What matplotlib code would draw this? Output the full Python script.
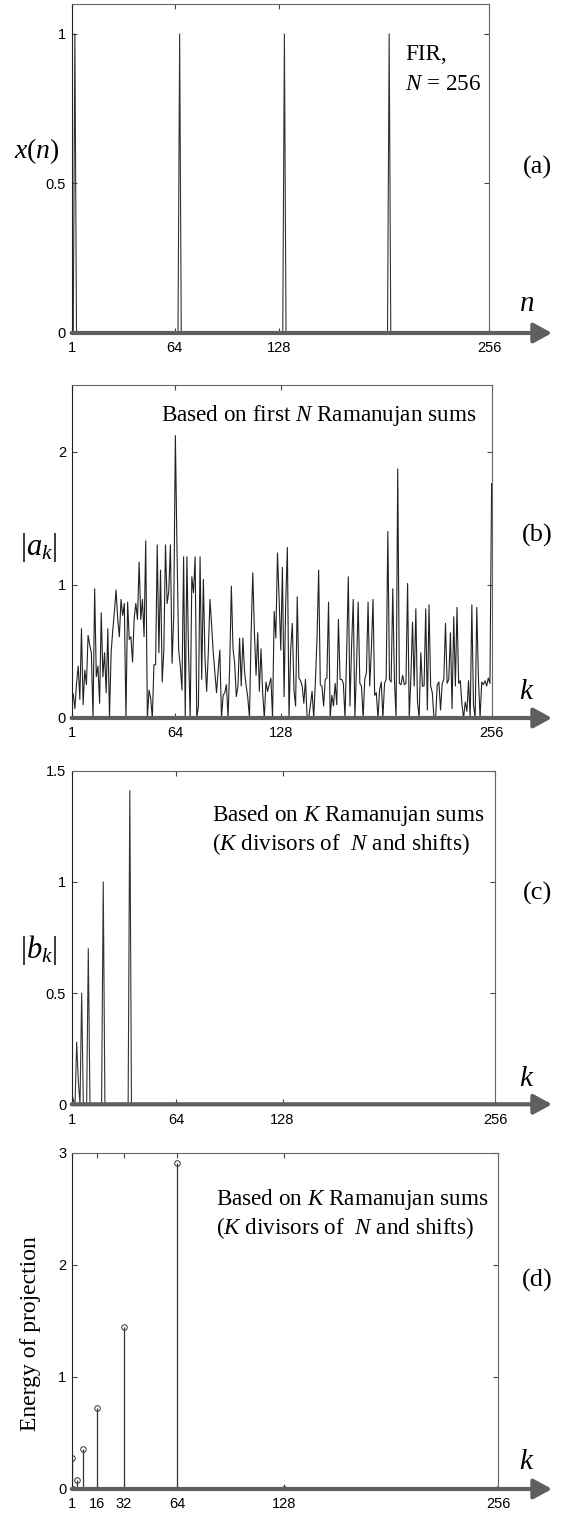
import numpy as np
import matplotlib
matplotlib.use('Agg')
import matplotlib.pyplot as plt

plt.rcParams['font.family'] = ['Liberation Sans', 'DejaVu Sans']
plt.rcParams['mathtext.fontset'] = 'custom'
plt.rcParams['mathtext.rm'] = 'Liberation Serif'
plt.rcParams['mathtext.it'] = 'Liberation Serif:italic'

W, H = 569, 1513

# (a) FIR signal, N = 256
n = np.arange(1, 257)
spike_n = [3, 67, 131, 195]
spike_val = [1.0, 1.0, 1.0, 1.0]

# (b) |a_k|, first N Ramanujan sums
a_k = [
    0.2, 0.18, 0.07, 0.26, 0.39, 0.14, 0.67, 0.1, 0.36, 0.25,
    0.62, 0.55, 0.49, 0.0, 0.97, 0.31, 0.39, 0.11, 0.79, 0.31,
    0.49, 0.19, 0.67, 0.0, 0.49, 0.66, 0.8, 0.96, 0.74, 0.61,
    0.89, 0.77, 0.86, 0.0, 0.87, 0.59, 0.61, 0.42, 0.75, 0.86,
    0.74, 1.17, 0.74, 0.89, 0.61, 1.33, 0.0, 0.21, 0.15, 0.0,
    0.4, 0.4, 1.3, 0.49, 1.11, 0.27, 0.51, 1.3, 0.86, 0.95,
    1.3, 0.41, 0.76, 2.12, 1.26, 0.51, 0.39, 0.21, 1.21, 0.0,
    1.21, 0.49, 0.0, 1.06,
    0.94, 1.21, 0.0, 0.09, 1.21, 0.29, 1.04, 0.44, 0.2, 0.49,
    0.89, 0.7, 0.49, 0.34, 0.19, 0.36, 0.51, 0.0, 0.17, 0.19,
    0.25, 0.0, 0.4, 0.99, 0.52, 0.41, 0.16, 0.24, 0.6, 0.24,
    0.6, 0.35, 0.24, 0.15, 0.0, 0.64, 1.09, 0.64, 0.32, 0.64,
    0.2, 0.52, 0.19, 0.0, 0.27, 0.2, 0.25, 0.3, 0.0, 0.8,
    0.6, 1.24, 0.89, 0.51, 1.13, 0.16, 0.87, 1.28, 0.0, 0.51,
    0.71, 0.21, 0.09, 0.91, 0.3, 0.28, 0.24, 0.11, 0.29, 0.0,
    0.0, 0.1, 0.2, 0.0, 0.27, 0.6, 1.11, 0.25, 0.24, 0.09,
    0.29, 0.3, 0.87, 0.0, 0.17, 0.09, 0.26, 0.1, 0.74, 0.29,
    0.29, 0.26, 0.0, 0.49, 1.06, 0.09, 0.54, 0.89, 0.0, 0.39,
    0.87, 0.26, 0.24, 0.0, 0.29, 0.34, 0.87, 0.24, 0.51, 0.89,
    0.17, 0.19, 0.0, 0.21, 0.27, 0.0, 0.26, 0.29, 1.4, 0.29,
    0.27, 0.97, 0.29, 0.0, 1.87, 0.26, 0.25, 0.32, 0.25, 0.26,
    1.01, 0.0, 0.31, 0.72, 0.24, 0.82, 0.12, 0.0, 0.49, 0.24,
    0.24, 0.82, 0.06, 0.85, 0.24, 0.19, 0.0, 0.0, 0.25, 0.27,
    0.06, 0.26, 0.29, 0.71, 0.26, 0.29, 0.64, 0.07, 0.76,
    0.24, 0.83, 0.26, 0.28, 0.1, 0.0, 0.12, 0.05, 0.28, 0.0,
    0.85, 0.1, 0.0, 0.83, 0.3, 0.0, 0.27, 0.25, 0.28, 0.24,
    0.3, 0.26, 1.76,
]

# (c) |b_k|, K Ramanujan sums (nonzero entries)
b_idx = [1, 2, 4, 5, 7, 11, 20, 36]
b_val = [0.05, 0.02, 0.28, 0.1, 0.5, 0.7, 1.0, 1.41]

# (d) energy of projection per divisor
e_k = [1, 2, 4, 8, 16, 32, 64, 128, 256]
e_val = [0.274, 0.0, 0.08, 0.36, 0.72, 1.45, 2.91, 0.0, 0.0]

x_n = np.zeros(256)
x_n[np.array(spike_n) - 1] = spike_val
b_k = np.zeros(256)
b_k[np.array(b_idx) - 1] = b_val


def pos(l, r, t, b):
    return [l / W, 1 - b / H, (r - l) / W, (b - t) / H]


def setup(ax, ytop, yticks, ylabels, xticks):
    ax.set_xlim(1, 256)
    ax.set_ylim(0, ytop)
    ax.set_xticks(xticks)
    ax.set_xticklabels([str(t) for t in xticks])
    ax.set_yticks(yticks)
    ax.set_yticklabels(ylabels)
    ax.tick_params(direction='in', top=True, right=True, length=3.5,
                   width=0.8, labelsize=10.5, color='#444')
    ax.tick_params(axis='x', pad=6)
    ax.tick_params(axis='y', pad=4)
    for s in ax.spines.values():
        s.set_color('#666')
        s.set_linewidth(0.8)
    ax.spines['left'].set_color('#222')
    ax.annotate('', xy=(552 / W, 0), xycoords=('figure fraction', 'data'),
                xytext=(1, 0), textcoords='data', annotation_clip=False,
                arrowprops=dict(arrowstyle='-|>,head_length=0.55,head_width=0.3',
                                color='#5f5f5f', lw=3, shrinkA=0, shrinkB=0,
                                mutation_scale=20))


def ftext(x, y, s, size=16.7, ha='center', **kw):
    fig.text(x / W, 1 - y / H, s, ha=ha, va='center', fontsize=size,
             family='Liberation Serif', **kw)


fig = plt.figure(figsize=(W / 100, H / 100), dpi=100)

# (a)
ax1 = fig.add_axes(pos(71.6, 489, 4, 333))
ax1.plot(n, x_n, color='#333', lw=0.8)
setup(ax1, 1.1, [0, 0.5, 1], ['0', '0.5', '1'], [1, 64, 128, 256])
ftext(405, 55, 'FIR,', ha='left')
ftext(405, 85, r'$N$ = 256', ha='left')
ftext(37, 151, r'$x(n)$', size=20)
ftext(537, 167, '(a)', size=19)
ftext(527, 304, r'$n$', size=21)

# (b)
ax2 = fig.add_axes(pos(71.6, 491.6, 385, 718))
ax2.plot(n, a_k, color='#222', lw=0.8)
setup(ax2, 2.5, [0, 1, 2], ['0', '1', '2'], [1, 64, 128, 256])
ftext(319, 416, r'Based on first $N$ Ramanujan sums')
ftext(39, 547, r'$|a_k|$', size=22)
ftext(537, 535, '(b)', size=19)
ftext(527, 692, r'$k$', size=21)

# (c)
ax3 = fig.add_axes(pos(71.7, 495, 770.7, 1104.3))
ax3.plot(n, b_k, color='#333', lw=0.8)
setup(ax3, 1.5, [0, 0.5, 1, 1.5], ['0', '0.5', '1', '1.5'], [1, 64, 128, 256])
ftext(212, 816, r'Based on $K$ Ramanujan sums', ha='left')
ftext(212, 844, r'($K$ divisors of  $N$ and shifts)', ha='left')
ftext(39, 950, r'$|b_k|$', size=22)
ftext(537, 893, '(c)', size=19)
ftext(527, 1079, r'$k$', size=21)

# (d)
ax4 = fig.add_axes(pos(71.7, 498, 1153, 1489))
ml, sl, bl = ax4.stem(e_k, e_val, basefmt=' ')
plt.setp(sl, color='#333', lw=0.9)
plt.setp(ml, marker='o', markersize=4, markerfacecolor='none',
         markeredgecolor='#333', markeredgewidth=0.7)
setup(ax4, 3, [0, 1, 2, 3], ['0', '1', '2', '3'], [1, 16, 32, 64, 128, 256])
ftext(216, 1199, r'Based on $K$ Ramanujan sums', ha='left')
ftext(216, 1228, r'($K$ divisors of  $N$ and shifts)', ha='left')
ftext(31, 1334, 'Energy of projection', size=17, rotation=90)
ftext(537, 1280, '(d)', size=19)
ftext(527, 1462, r'$k$', size=21)

fig.savefig('out.png', dpi=100)
